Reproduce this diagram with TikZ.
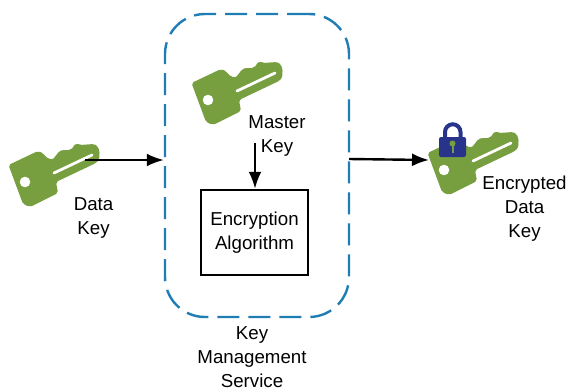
\documentclass[tikz,border=0pt]{standalone}
\usepackage{fontspec}
\setmainfont{Liberation Sans}
\usetikzlibrary{arrows.meta}
\definecolor{keygreen}{HTML}{779F3F}
\definecolor{locknavy}{HTML}{28348A}
\definecolor{kmsblue}{HTML}{1F7DB4}
\tikzset{
    lbl/.style={align=center, inner sep=0pt, font=\fontsize{18.7}{24}\selectfont},
    conn/.style={line width=2.4pt, -{Latex[length=17pt,width=13pt]}},
    key/.pic={
        \fill[keygreen, rounded corners=2pt] (8.5,35) -- (38,21) -- (43,23)
            .. controls (47,29) and (52,30) .. (55,27)
            .. controls (57,24) and (59,21) .. (63,20)
            -- (71,20) -- (76,13) -- (80,15) -- (94,14)
            .. controls (100,17) and (101,28) .. (96,33)
            -- (56,52) -- (58,63) -- (30,77) -- (23,74) -- cycle;
        \draw[white, line width=2.8pt, line cap=round] (54,43) -- (92,25);
        \fill[white] (25,52) circle (5.3);
    }
}
\begin{document}
\begin{tikzpicture}[x=1pt, y=-1pt]
    \useasboundingbox (0,0) rectangle (569,391);
    % keys
    \pic at (0,130) {key};
    \pic at (183,48) {key};
    \pic at (419,118) {key};
    % lock on the third key
    \draw[locknavy, line width=4pt] (445,138) -- (445,132) arc[start angle=180, end angle=360, radius=7.75] -- (460.5,138);
    \fill[locknavy, rounded corners=2pt] (439,137) rectangle (466,157);
    \fill[keygreen] (452.5,143.5) circle (3);
    \draw[keygreen, line width=2pt] (452.5,143) -- (452.5,153);
    % boxes
    \node[draw=kmsblue, dashed, dash pattern=on 22pt off 9pt, line width=2.4pt, rounded corners=40pt, minimum width=184pt, minimum height=303pt, inner sep=0pt] (kms) at (257,165.5) {};
    \node[draw, line width=2.4pt, minimum width=107pt, minimum height=85pt, lbl] (algo) at (254.5,232.5) {Encryption\\Algorithm};
    % text
    \node[lbl] (datalbl) at (93.5,218.5) {Data\\Key};
    \node[lbl] (masterlbl) at (277,136.5) {Master\\Key};
    \node[lbl] (enclbl) at (524.5,208.5) {Encrypted\\Data\\Key};
    \node[lbl] (kmslbl) at (252,357.5) {Key\\Management\\Service};
    % arrows
    \coordinate (datakey) at (85,160);
    \coordinate (masterkey) at (255,143);
    \coordinate (kmsout) at (349,159);
    \coordinate (enckey) at (429,160);
    \draw[conn] (datakey) -- (datakey -| kms.west);
    \draw[conn] (masterkey) -- (masterkey |- algo.north);
    \draw[conn] (kmsout) -- (enckey);
\end{tikzpicture}
\end{document}
